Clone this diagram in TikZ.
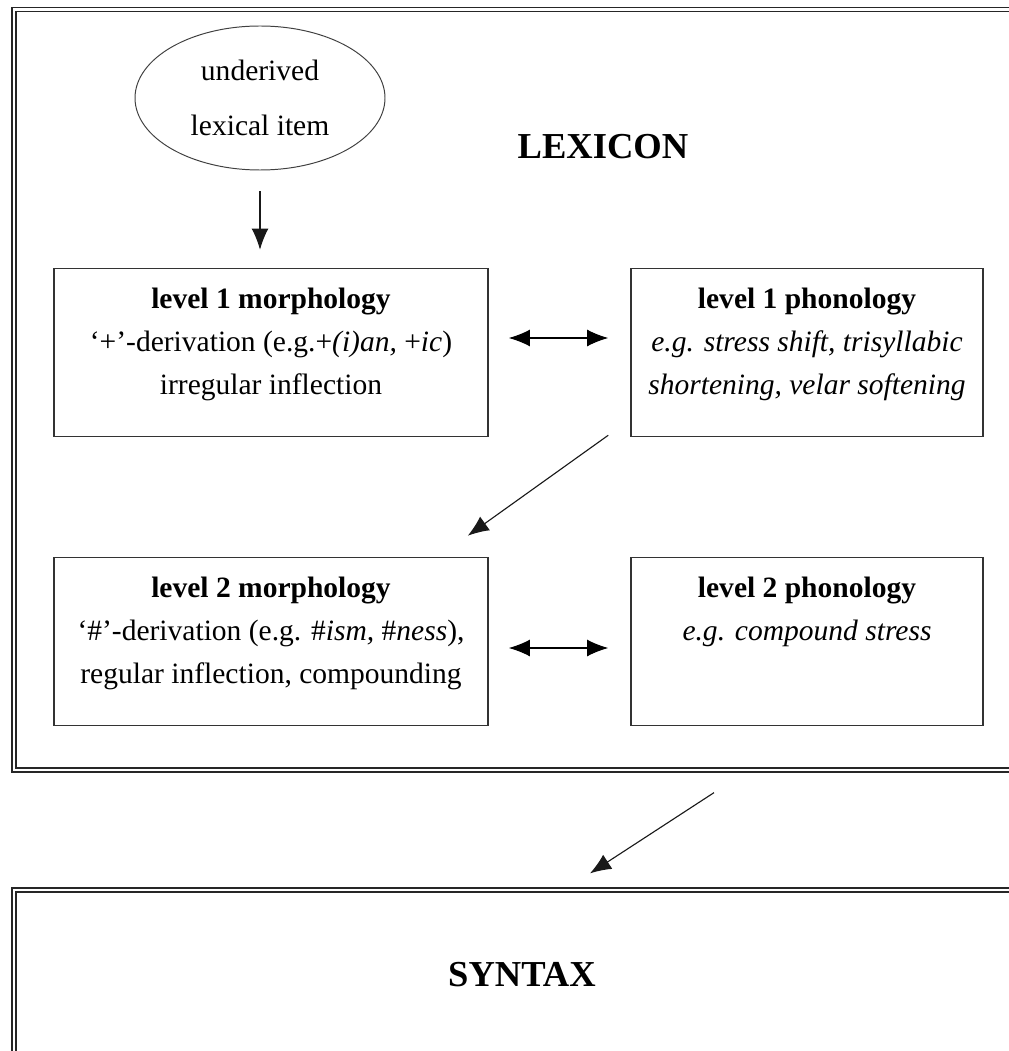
\documentclass[tikz,border=0pt]{standalone}
\usepackage{fontspec}
\setmainfont{Liberation Serif}
\usepackage{tikz}
\usetikzlibrary{positioning,shapes.geometric,arrows.meta,calc}

\begin{document}
\begin{tikzpicture}[auto, node distance = 7.225cm and 13.4cm, on grid,
font=\fontsize{21}{30.5}\selectfont,
frame/.style ={draw=black!85, line width=0.9pt, double, double distance=1.9pt, minimum width=25.4cm},
level/.style ={draw=black!80, line width=1.1pt, minimum height=4.2cm},
boxtext/.style ={anchor=north, align=center, inner sep=0pt},
arr/.style ={-{Latex[length=15pt,width=12pt]}, line width=0.8pt, black!90},
biarr/.style ={{Latex[length=15pt,width=12pt]}-{Latex[length=15pt,width=12pt]}, line width=0.8pt},
title/.style ={font=\fontsize{26}{30}\selectfont\bfseries}]
\useasboundingbox (0,0) rectangle (25.2,-26.275);

\node[frame, minimum height=19.0125cm] (lex) at (13.05,-9.74375) {};
\node[frame, minimum height=4.25cm, title] (syn) at (13.05,-24.375) {SYNTAX};
\node[title] (lextitle) at (15.075,-3.675) {LEXICON};

\node[ellipse, draw=black!75, line width=0.7pt, minimum width=6.25cm, minimum height=3.6cm,
  align=center, font=\fontsize{21}{39}\selectfont] (item) at (6.5,-2.45) {underived\\lexical item};

\node[level, minimum width=10.85cm] (m1) at (6.775,-8.8125) {};
\node[level, minimum width=8.8cm] (p1) [right = of m1] {};
\node[level, minimum width=10.85cm] (m2) [below = of m1] {};
\node[level, minimum width=8.8cm] (p2) [right = of m2] {};

\node[boxtext] (m1t) at ([yshift=-0.5cm]m1.north) {\textbf{level 1 morphology}\\
  `+'-derivation (e.g.+\textit{(i)an, }+\textit{ic})\\ irregular inflection};
\node[boxtext] (p1t) at ([yshift=-0.5cm]p1.north) {\textbf{level 1 phonology}\\
  \textit{e.g. stress shift, trisyllabic}\\ \textit{shortening, velar softening}};
\node[boxtext] (m2t) at ([yshift=-0.5cm]m2.north) {\textbf{level 2 morphology}\\
  `\#'-derivation (e.g. \#\textit{ism, }\#\textit{ness}),\\ regular inflection, compounding};
\node[boxtext] (p2t) at ([yshift=-0.5cm]p2.north) {\textbf{level 2 phonology}\\
  \textit{e.g. compound stress}};

\draw[arr, shorten <=0.525cm, shorten >=0.45cm] (item.south) -- (item.south |- m1.north);
\draw[biarr, shorten <=0.5cm, shorten >=0.55cm] ([yshift=0.3625cm]m1.east) -- ([yshift=0.3625cm]p1.west);
\draw[biarr, shorten <=0.5cm, shorten >=0.55cm] ([yshift=-0.1625cm]m2.east) -- ([yshift=-0.1625cm]p2.west);
\draw[arr] ($(p1.south west)+(-0.55,0.05)$) -- ($(m2.north east)+(-0.525,0.525)$);
\draw[arr] ($(lex.south)+(4.8,-0.55)$) -- ($(syn.north)+(1.7,0.4)$);
\end{tikzpicture}
\end{document}
